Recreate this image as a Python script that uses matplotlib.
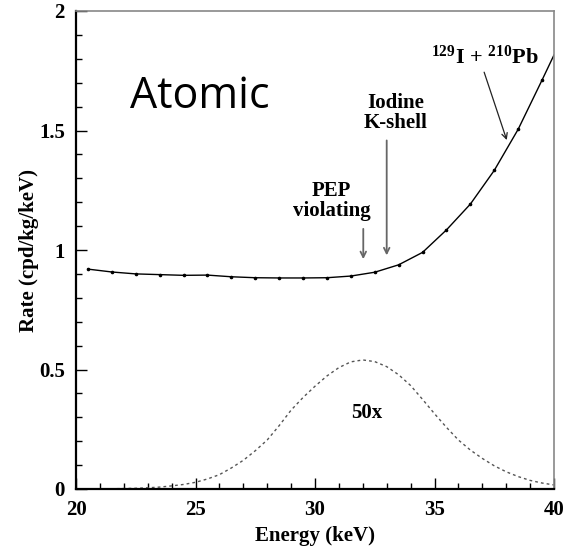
import matplotlib
matplotlib.use("Agg")
import matplotlib.pyplot as plt
from matplotlib.ticker import MultipleLocator

# measured rate, one point per keV bin
energy = [20.5, 21.5, 22.5, 23.5, 24.5, 25.5, 26.5, 27.5, 28.5, 29.5,
          30.5, 31.5, 32.5, 33.5, 34.5, 35.5, 36.5, 37.5, 38.5, 39.5]
rate = [0.920, 0.908, 0.900, 0.897, 0.894, 0.895, 0.888, 0.884, 0.883, 0.883,
        0.884, 0.891, 0.907, 0.938, 0.990, 1.084, 1.192, 1.333, 1.505, 1.711]
# curve continues to the right edge of the window
edge_energy = 40.0
edge_rate = 1.816

# expected PEP-violating line shape, scaled up 50x
sig_energy = [20.0, 20.5, 21.0, 21.5, 22.0, 22.5, 23.0, 23.5, 24.0, 24.5,
              25.0, 25.5, 26.0, 26.5, 27.0, 27.5, 28.0, 28.5, 29.0, 29.5,
              30.0, 30.5, 31.0, 31.5, 32.0, 32.5, 33.0, 33.5, 34.0, 34.5,
              35.0, 35.5, 36.0, 36.5, 37.0, 37.5, 38.0, 38.5, 39.0, 39.5, 40.0]
sig_rate = [0.000, 0.000, 0.001, 0.001, 0.002, 0.003, 0.005, 0.008, 0.013, 0.019,
            0.028, 0.042, 0.060, 0.088, 0.120, 0.160, 0.205, 0.265, 0.330, 0.383,
            0.430, 0.473, 0.508, 0.532, 0.540, 0.533, 0.512, 0.478, 0.433, 0.375,
            0.315, 0.258, 0.205, 0.163, 0.128, 0.097, 0.072, 0.052, 0.036, 0.025, 0.017]

serif = ["Liberation Serif", "DejaVu Serif"]
plt.rcParams["mathtext.fontset"] = "custom"
plt.rcParams["mathtext.rm"] = "Liberation Serif:bold"
plt.rcParams["mathtext.bf"] = "Liberation Serif:bold"
plt.rcParams["mathtext.it"] = "Liberation Serif:bold"

fig = plt.figure(figsize=(5.78, 5.48), dpi=100)
ax = fig.add_axes([76 / 578, 1 - 489 / 548, 478 / 578, 478 / 548])

ax.plot(energy + [edge_energy], rate + [edge_rate], color="black", lw=1.0)
ax.plot(energy, rate, ls="none", marker="o", ms=1.6, color="black")
ax.plot(sig_energy, sig_rate, color="#555555", lw=1.0, ls=(0, (2.0, 2.2)))

ax.set_xlim(20, 40)
ax.set_ylim(0, 2)
ax.xaxis.set_major_locator(MultipleLocator(5))
ax.xaxis.set_minor_locator(MultipleLocator(1))
ax.yaxis.set_minor_locator(MultipleLocator(0.1))
ax.set_yticks([0, 0.5, 1, 1.5, 2])
ax.set_yticklabels(["0", "0.5", "1", "1.5", "2"])
ax.tick_params(which="both", direction="in", top=False, right=False, width=1.0)
ax.tick_params(which="major", length=8, pad=8)
ax.tick_params(which="minor", length=4)
for lab in ax.get_xticklabels() + ax.get_yticklabels():
    lab.set_family(serif)
    lab.set_fontweight("bold")
    lab.set_fontsize(15)

ax.spines["left"].set_linewidth(1.6)
ax.spines["bottom"].set_linewidth(1.6)
for side in ("top", "right"):
    ax.spines[side].set_color("#888888")
    ax.spines[side].set_linewidth(1.2)

ax.set_xlabel("Energy (keV)", family=serif, fontweight="bold", fontsize=15, labelpad=4)
ax.set_ylabel("Rate (cpd/kg/keV)", family=serif, fontweight="bold", fontsize=15, labelpad=0)

ax.text(25.2, 1.64, "Atomic", family="Open Sans", fontsize=31, ha="center", va="center")

ax.text(32.17, 0.32, "50x", family=serif, fontweight="bold", fontsize=15,
        ha="center", va="center")

ax.text(30.7, 1.12, "PEP\nviolating", family=serif, fontweight="bold", fontsize=15,
        ha="center", va="bottom", linespacing=1.0)
ax.annotate("", xy=(32.02, 0.95), xytext=(32.02, 1.10),
            arrowprops=dict(arrowstyle="->", color="#666666", lw=1.3))

ax.text(33.36, 1.49, "Iodine\nK-shell", family=serif, fontweight="bold", fontsize=15,
        ha="center", va="bottom", linespacing=1.0)
ax.annotate("", xy=(33.0, 0.966), xytext=(33.0, 1.47),
            arrowprops=dict(arrowstyle="->", color="#666666", lw=1.3))

ax.text(37.1, 1.78, r"$^{129}$I + $^{210}$Pb", family=serif,
        fontweight="bold", fontsize=16, ha="center", va="baseline")
ax.annotate("", xy=(38.06, 1.449), xytext=(37.04, 1.755),
            arrowprops=dict(arrowstyle="->", color="#222222", lw=0.9))

fig.savefig("out.png", dpi=100)
